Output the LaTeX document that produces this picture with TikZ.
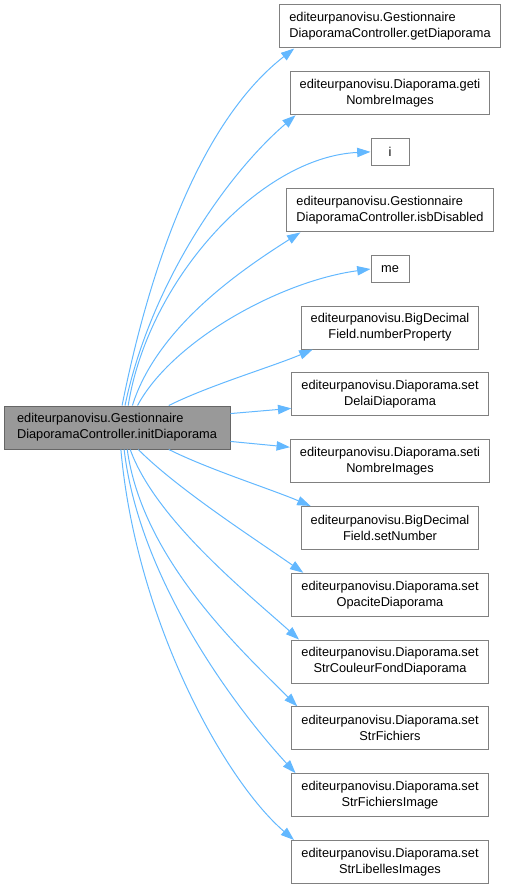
\documentclass[tikz,border=0pt]{standalone}
\usepackage{fontspec}
\setmainfont{Liberation Sans}
\usetikzlibrary{arrows.meta, positioning}

\definecolor{edgeblue}{HTML}{63B8FF}
\definecolor{boxline}{HTML}{808080}
\definecolor{rootfill}{HTML}{999999}
\definecolor{rootline}{HTML}{666666}

\begin{document}
\begin{tikzpicture}[
  x=0.75pt, y=-0.75pt,
  node distance=17.1pt,
  every node/.style={font=\fontsize{9.6}{12}\selectfont},
  box/.style={draw=boxline, line width=0.75pt, fill=white, minimum height=32.25pt, inner xsep=7.2pt, inner ysep=2pt, align=center},
  lbox/.style={box, align=left},
  small/.style={box, minimum width=28.5pt, minimum height=19.9pt},
  root/.style={lbox, draw=rootline, fill=rootfill, minimum width=169.5pt},
  arrow/.style={-{Triangle[length=10pt,width=7pt]}, draw=edgeblue, line width=0.75pt}
]
\useasboundingbox (0,0) rectangle (508,888);

% Nodes
\node[root] (n0) at (117,427.5) {editeurpanovisu.Gestionnaire\\DiaporamaController.initDiaporama};
\node[lbox] (n1) at (390,26.5) {editeurpanovisu.Gestionnaire\\DiaporamaController.getDiaporama};
\node[box, below=of n1] (n2) {editeurpanovisu.Diaporama.geti\\NombreImages};
\node[small, below=of n2] (n3) {i};
\node[lbox, below=of n3] (n4) {editeurpanovisu.Gestionnaire\\DiaporamaController.isbDisabled};
\node[small, below=of n4] (n5) {me};
\node[box, below=of n5] (n6) {editeurpanovisu.BigDecimal\\Field.numberProperty};
\node[box, below=of n6] (n7) {editeurpanovisu.Diaporama.set\\DelaiDiaporama};
\node[box, below=of n7] (n8) {editeurpanovisu.Diaporama.seti\\NombreImages};
\node[box, below=of n8] (n9) {editeurpanovisu.BigDecimal\\Field.setNumber};
\node[box, below=of n9] (n10) {editeurpanovisu.Diaporama.set\\OpaciteDiaporama};
\node[box, below=of n10] (n11) {editeurpanovisu.Diaporama.set\\StrCouleurFondDiaporama};
\node[box, below=of n11] (n12) {editeurpanovisu.Diaporama.set\\StrFichiers};
\node[box, below=of n12] (n13) {editeurpanovisu.Diaporama.set\\StrFichiersImage};
\node[box, below=of n13] (n14) {editeurpanovisu.Diaporama.set\\StrLibellesImages};

% Calls
\draw[arrow] (n0.77) .. controls +(30,-150) and +(-90,70) .. ([xshift=11.25pt]n1.south west);
\draw[arrow] (n0.70) .. controls +(25,-120) and +(-70,60) .. ([xshift=4.5pt]n2.south west);
\draw[arrow] (n0.63) .. controls +(20,-126) and +(-110,5) .. (n3.west);
\draw[arrow] (n0.55) .. controls +(25,-80) and +(-55,35) .. ([xshift=10.5pt]n4.south west);
\draw[arrow] (n0.47) .. controls +(35,-65) and +(-90,12) .. (n5.west);
\draw[arrow] (n0.23) .. controls +(40,-20) and +(-40,17) .. ([xshift=9pt]n6.south west);
\draw[arrow] (n0.7) -- ([yshift=6pt]n7.south west);
\draw[arrow] (n0.-7) -- ([yshift=-6pt]n8.north west);
\draw[arrow] (n0.-23) .. controls +(40,20) and +(-40,-17) .. ([xshift=7.5pt]n9.north west);
\draw[arrow] (n0.-46) .. controls +(40,40) and +(-50,-35) .. ([xshift=9pt]n10.north west);
\draw[arrow] (n0.-59) .. controls +(25,70) and +(-50,-45) .. ([xshift=5.8pt]n11.north west);
\draw[arrow] (n0.-65) .. controls +(15,110) and +(-55,-55) .. ([xshift=4.5pt]n12.north west);
\draw[arrow] (n0.-72) .. controls +(15,130) and +(-60,-65) .. ([xshift=3.2pt]n13.north west);
\draw[arrow] (n0.-80) .. controls +(15,170) and +(-70,-60) .. ([xshift=2pt]n14.north west);

\end{tikzpicture}
\end{document}
